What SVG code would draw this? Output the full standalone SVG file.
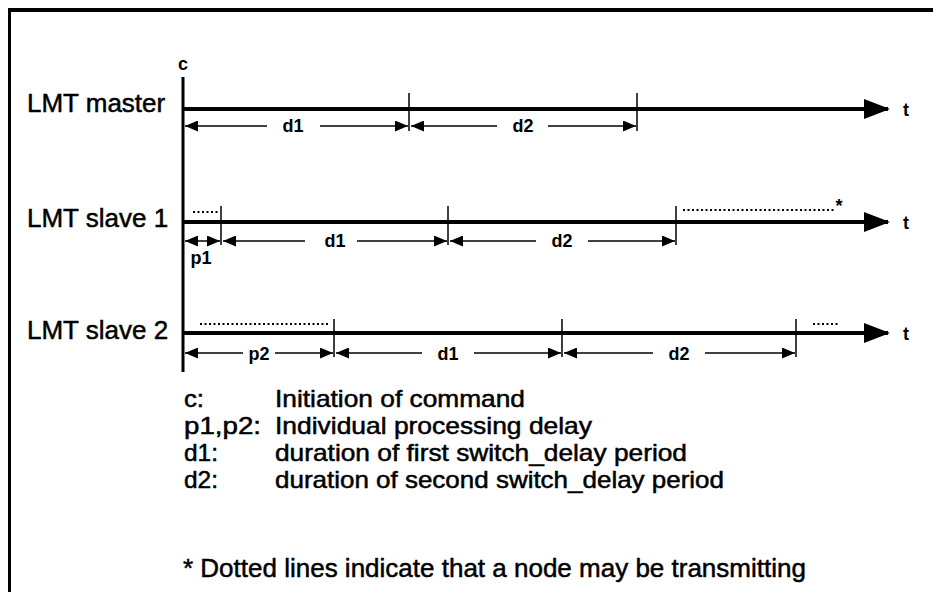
<svg xmlns="http://www.w3.org/2000/svg" width="933" height="592" viewBox="0 0 933 592">
  <defs>
    <style>
      .lbl { font-family: "Liberation Sans", Arial, sans-serif; font-size: 26px; fill: #000; stroke: #000; stroke-width: 0.5; }
      .key { font-family: "Liberation Sans", Arial, sans-serif; font-size: 23.4px; fill: #000; stroke: #000; stroke-width: 0.5; }
      .sm { font-family: "Liberation Sans", Arial, sans-serif; font-size: 18px; font-weight: bold; fill: #000; }
      .axis { stroke: #000; stroke-width: 4; fill: none; marker-end: url(#bigHead); }
      .tick { stroke: #000; stroke-width: 1.5; fill: none; }
      .dim { stroke: #000; stroke-width: 1.5; fill: none; marker-end: url(#head); }
      .dot { stroke: #000; stroke-width: 2; stroke-dasharray: 2 2.5; fill: none; }
    </style>
    <marker id="head" markerUnits="userSpaceOnUse" markerWidth="13" markerHeight="11" refX="13" refY="5.5" orient="auto">
      <path d="M0,0 L13,5.5 L0,11 z" fill="#000"/>
    </marker>
    <marker id="bigHead" markerUnits="userSpaceOnUse" markerWidth="26" markerHeight="20" refX="24" refY="10" orient="auto">
      <path d="M0,0 L26,10 L0,20 z" fill="#000"/>
    </marker>
  </defs>

  <rect width="933" height="592" fill="#fff"/>

  <!-- outer frame -->
  <g id="frame" stroke="#000" fill="none">
    <line x1="8" y1="10" x2="933" y2="10" stroke-width="4"/>
    <line x1="9.5" y1="8" x2="9.5" y2="592" stroke-width="3"/>
  </g>

  <!-- command initiation axis -->
  <g id="command-axis">
    <line x1="183" y1="77" x2="183" y2="372" stroke="#000" stroke-width="3"/>
    <text class="sm" x="183" y="70" text-anchor="middle">c</text>
  </g>

  <!-- LMT master timeline -->
  <g id="master">
    <text class="lbl" x="27" y="112">LMT master</text>
    <line class="axis" x1="183" y1="109" x2="888" y2="109"/>
    <text class="sm" x="903" y="116">t</text>
    <line class="tick" x1="409" y1="93" x2="409" y2="131"/>
    <line class="tick" x1="637" y1="93" x2="637" y2="131"/>
    <text class="sm" x="293" y="132" text-anchor="middle">d1</text>
    <text class="sm" x="523" y="132" text-anchor="middle">d2</text>
  </g>

  <!-- LMT slave 1 timeline -->
  <g id="slave1">
    <text class="lbl" x="27" y="227">LMT slave 1</text>
    <line class="dot" x1="193" y1="212" x2="219" y2="212"/>
    <line class="dot" x1="683" y1="210" x2="836" y2="210"/>
    <text class="sm" x="839" y="212" text-anchor="middle">*</text>
    <line class="axis" x1="183" y1="222" x2="888" y2="222"/>
    <text class="sm" x="903" y="229">t</text>
    <line class="tick" x1="221" y1="206" x2="221" y2="245"/>
    <line class="tick" x1="448" y1="206" x2="448" y2="245"/>
    <line class="tick" x1="676" y1="206" x2="676" y2="245"/>
    <text class="sm" x="201" y="264" text-anchor="middle">p1</text>
    <text class="sm" x="335" y="247" text-anchor="middle">d1</text>
    <text class="sm" x="562" y="247" text-anchor="middle">d2</text>
  </g>

  <!-- LMT slave 2 timeline -->
  <g id="slave2">
    <text class="lbl" x="27" y="339">LMT slave 2</text>
    <line class="dot" x1="200" y1="324" x2="328" y2="324"/>
    <line class="dot" x1="813" y1="324" x2="838" y2="324"/>
    <line class="axis" x1="183" y1="333" x2="888" y2="333"/>
    <text class="sm" x="903" y="340">t</text>
    <line class="tick" x1="334" y1="319" x2="334" y2="357"/>
    <line class="tick" x1="562" y1="319" x2="562" y2="357"/>
    <line class="tick" x1="796" y1="319" x2="796" y2="357"/>
    <text class="sm" x="259" y="360" text-anchor="middle">p2</text>
    <text class="sm" x="448" y="360" text-anchor="middle">d1</text>
    <text class="sm" x="679" y="360" text-anchor="middle">d2</text>
  </g>

  <!-- dimension arrows between ticks -->
  <g id="connectors">
    <!-- master -->
    <path class="dim" d="M267,126 H185"/>
    <path class="dim" d="M320,126 H408"/>
    <path class="dim" d="M497,126 H411"/>
    <path class="dim" d="M548,126 H636"/>
    <!-- slave 1 -->
    <path class="dim" d="M202,241 H185"/>
    <path class="dim" d="M202,241 H220"/>
    <path class="dim" d="M305,241 H223"/>
    <path class="dim" d="M357,241 H447"/>
    <path class="dim" d="M536,241 H450"/>
    <path class="dim" d="M588,241 H675"/>
    <!-- slave 2 -->
    <path class="dim" d="M243,353 H185"/>
    <path class="dim" d="M275,353 H333"/>
    <path class="dim" d="M422,353 H336"/>
    <path class="dim" d="M474,353 H561"/>
    <path class="dim" d="M653,353 H564"/>
    <path class="dim" d="M705,353 H795"/>
  </g>

  <!-- legend -->
  <g id="legend">
    <text class="key" x="184" y="407" textLength="20" lengthAdjust="spacingAndGlyphs">c:</text>
    <text class="key" x="275" y="407" textLength="250" lengthAdjust="spacingAndGlyphs">Initiation of command</text>
    <text class="key" x="184" y="434" textLength="77" lengthAdjust="spacingAndGlyphs">p1,p2:</text>
    <text class="key" x="275" y="434" textLength="317" lengthAdjust="spacingAndGlyphs">Individual processing delay</text>
    <text class="key" x="184" y="461" textLength="34" lengthAdjust="spacingAndGlyphs">d1:</text>
    <text class="key" x="275" y="461" textLength="412" lengthAdjust="spacingAndGlyphs">duration of first switch_delay period</text>
    <text class="key" x="184" y="488" textLength="34" lengthAdjust="spacingAndGlyphs">d2:</text>
    <text class="key" x="275" y="488" textLength="449" lengthAdjust="spacingAndGlyphs">duration of second switch_delay period</text>
    <text class="lbl" x="183" y="577">* Dotted lines indicate that a node may be transmitting</text>
  </g>
</svg>
